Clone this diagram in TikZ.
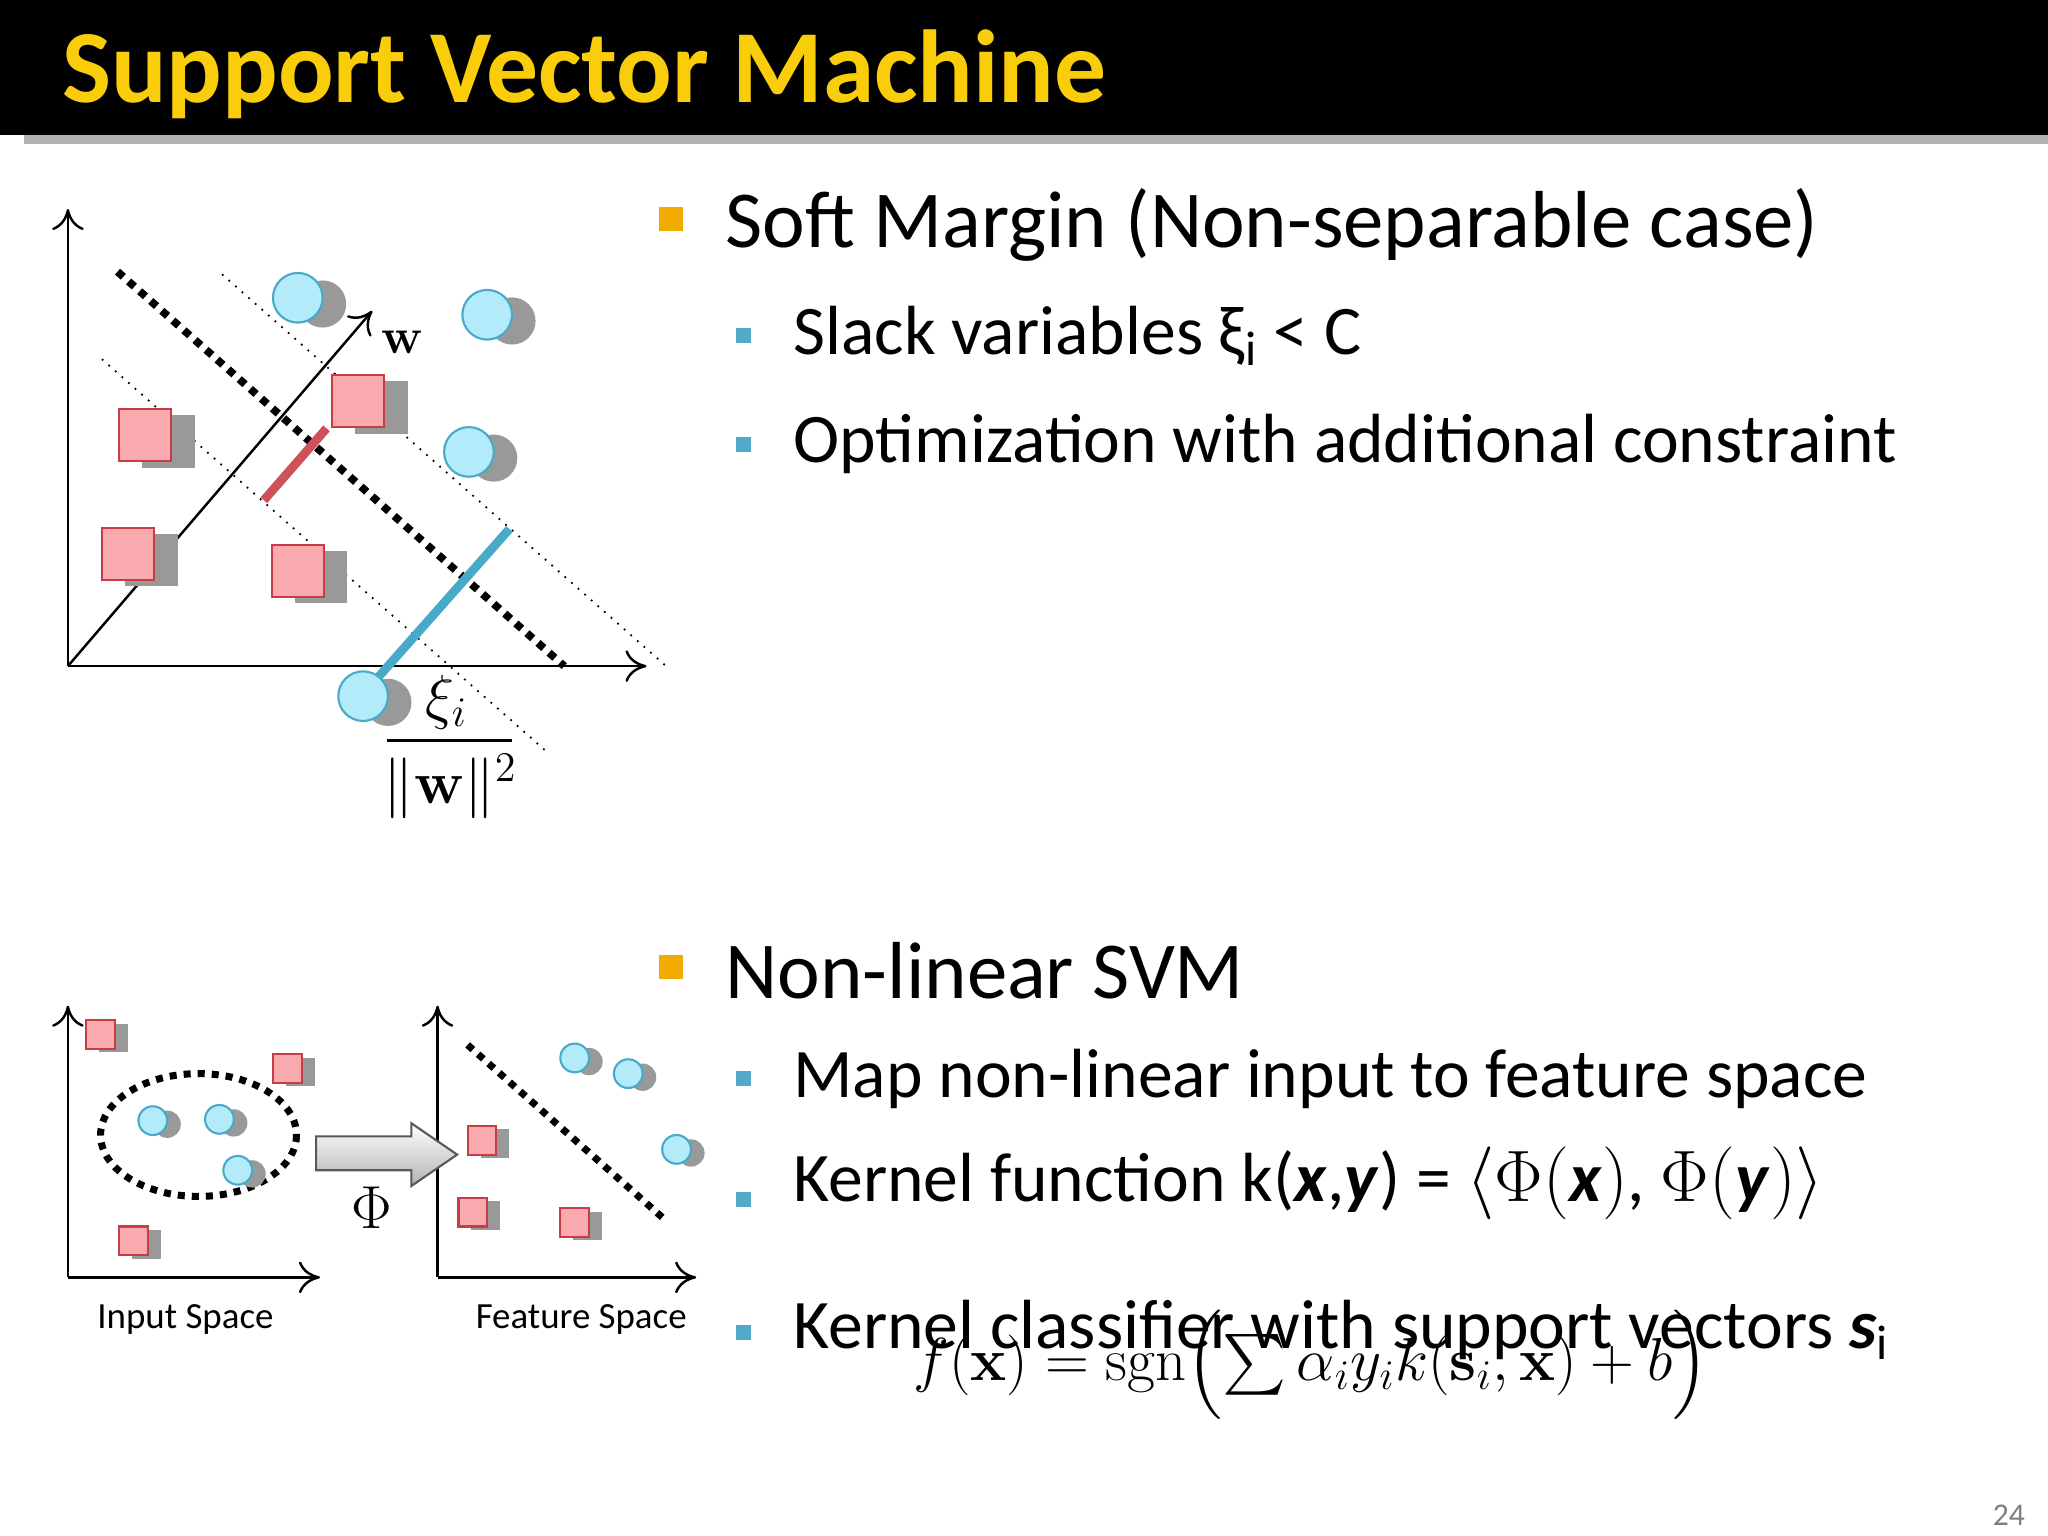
\documentclass[tikz,border=0pt]{standalone}
\usepackage[no-math]{fontspec}
\setmainfont{Carlito}
\usepackage{amsmath}
\usetikzlibrary{shapes.arrows,arrows.meta}
\definecolor{gold}{RGB}{250,205,10}
\definecolor{pinkf}{RGB}{250,170,175}
\definecolor{pinkd}{RGB}{200,60,70}
\definecolor{cyanf}{RGB}{180,235,250}
\definecolor{cyand}{RGB}{70,170,200}
\definecolor{orb}{RGB}{240,170,0}
\definecolor{cyb}{RGB}{80,170,200}
\tikzset{
 sq/.pic={\fill[gray!80] (-0.1,-0.75) rectangle (1.9,1.25);\fill[pinkf] (-1,-1) rectangle (1,1);\draw[pinkd,line width=0.6pt] (-1,-1) rectangle (1,1);},
 ci/.pic={\fill[gray!80] (1,0.25) circle (0.95);\fill[cyanf] (0,0) circle (1);\draw[cyand,line width=0.6pt] (0,0) circle (1);},
 ax/.style={-{To[length=6pt,width=9pt]},line width=0.7pt},
 big/.style={anchor=west,font=\fontsize{23}{27}\selectfont},
 sub/.style={anchor=west,font=\fontsize{19.8}{23}\selectfont},
 ob/.style={fill=orb,minimum size=0.24cm,inner sep=0pt},
 cb/.style={fill=cyb,minimum size=0.15cm,inner sep=0pt}
}
\begin{document}
\begin{tikzpicture}[x=0.01306cm,y=-0.01306cm]
\useasboundingbox (0,0) rectangle (1568,1176);
\fill[white] (0,0) rectangle (1568,1176);
\fill[gray!60] (18,103) rectangle (1568,110);
\fill[black] (0,0) rectangle (1568,103);
\node[anchor=west,text=gold,font=\bfseries\fontsize{29.5}{34}\selectfont] (title) at (38,57) {Support Vector Machine};
% top diagram
\coordinate (o) at (52,510);
\draw[ax] (o) -- (52,160);
\draw[ax] (o) -- (495,510);
\draw[ax] (o) -- (285,238);
\node (w) at (308,262) {\Large$\mathbf{w}$};
\draw[line width=2.2pt,dotted] (90,208) -- (432,510);
\draw[line width=0.5pt,dotted] (170,210) -- (510,510);
\draw[line width=0.5pt,dotted] (78,275) -- (418,575);
\draw[pinkd!90,line width=2.5pt] (202,383) -- (250,328);
\draw[cyand,line width=2.5pt] (290,518) -- (390,405);
\foreach \p in {(111,333),(98,424),(228,437),(274,307)} \pic[scale=20] at \p {sq};
\foreach \p in {(228,228),(373,241),(359,346),(278,533)} \pic[scale=19] at \p {ci};
\node (xi) at (342,538) {\LARGE$\xi_i$};
\draw[line width=0.7pt] (296,567) -- (392,567);
\node (nw) at (345,602) {\LARGE$\|\mathbf{w}\|^2$};
% bottom diagram
\draw[ax] (52,978) -- (52,770);
\draw[ax] (52,978) -- (245,978);
\draw[ax] (335,978) -- (335,770);
\draw[ax] (335,978) -- (533,978);
\draw[line width=2pt,dotted] (152,869) ellipse (75 and 47);
\draw[line width=2pt,dotted] (358,800) -- (507,932);
\foreach \p in {(77,792),(220,818),(102,950),(369,873),(362,928),(440,936)} \pic[scale=11] at \p {sq};
\foreach \p in {(117,858),(168,857),(182,896),(440,810),(481,822),(518,880)} \pic[scale=11] at \p {ci};
\filldraw[draw=gray!70!black,top color=white,bottom color=gray!60,line width=0.6pt] (242,870) -- (315,870) -- (315,860) -- (350,884) -- (315,908) -- (315,896) -- (242,896) -- cycle;
\node (phi) at (285,925) {\LARGE$\Phi$};
\node (in) at (142,1010) {\fontsize{10.5}{12}\selectfont Input Space};
\node (fe) at (445,1010) {\fontsize{10.5}{12}\selectfont Feature Space};
% text
\node[ob] (b1) at (514,168) {};
\node[big] (t1) at (546,172) {Soft Margin (Non-separable case)};
\node[cb] (s1) at (569,257) {};
\node[sub] (u1) at (598,257) {Slack variables ξ\textsubscript{i} < C};
\node[cb] (s2) at (569,340) {};
\node[sub] (u2) at (598,340) {Optimization with additional constraint};
\node[ob] (b2) at (514,740) {};
\node[big] (t2) at (546,743) {Non-linear SVM};
\node[cb] (s3) at (569,826) {};
\node[sub] (u3) at (598,826) {Map non-linear input to feature space};
\node[cb] (s4) at (569,918) {};
\node[sub] (u4) at (598,906) {Kernel function k(\textbf{\textit{x}},\textbf{\textit{y}}) = $\langle\Phi($\textbf{\textit{x}}$)$, $\Phi($\textbf{\textit{y}}$)\rangle$};
\node[cb] (s5) at (569,1020) {};
\node[sub] (u5) at (598,1018) {Kernel classifier with support vectors \textbf{\textit{s}}\textsubscript{i}};
\node (f) at (1004,1045) {\fontsize{18.6}{22}\selectfont$f(\mathbf{x})=\operatorname{sgn}\Bigl(\sum\alpha_iy_ik(\mathbf{s}_i,\mathbf{x})+b\Bigr)$};
\node[text=gray,font=\small] (pg) at (1538,1160) {24};
\end{tikzpicture}
\end{document}
